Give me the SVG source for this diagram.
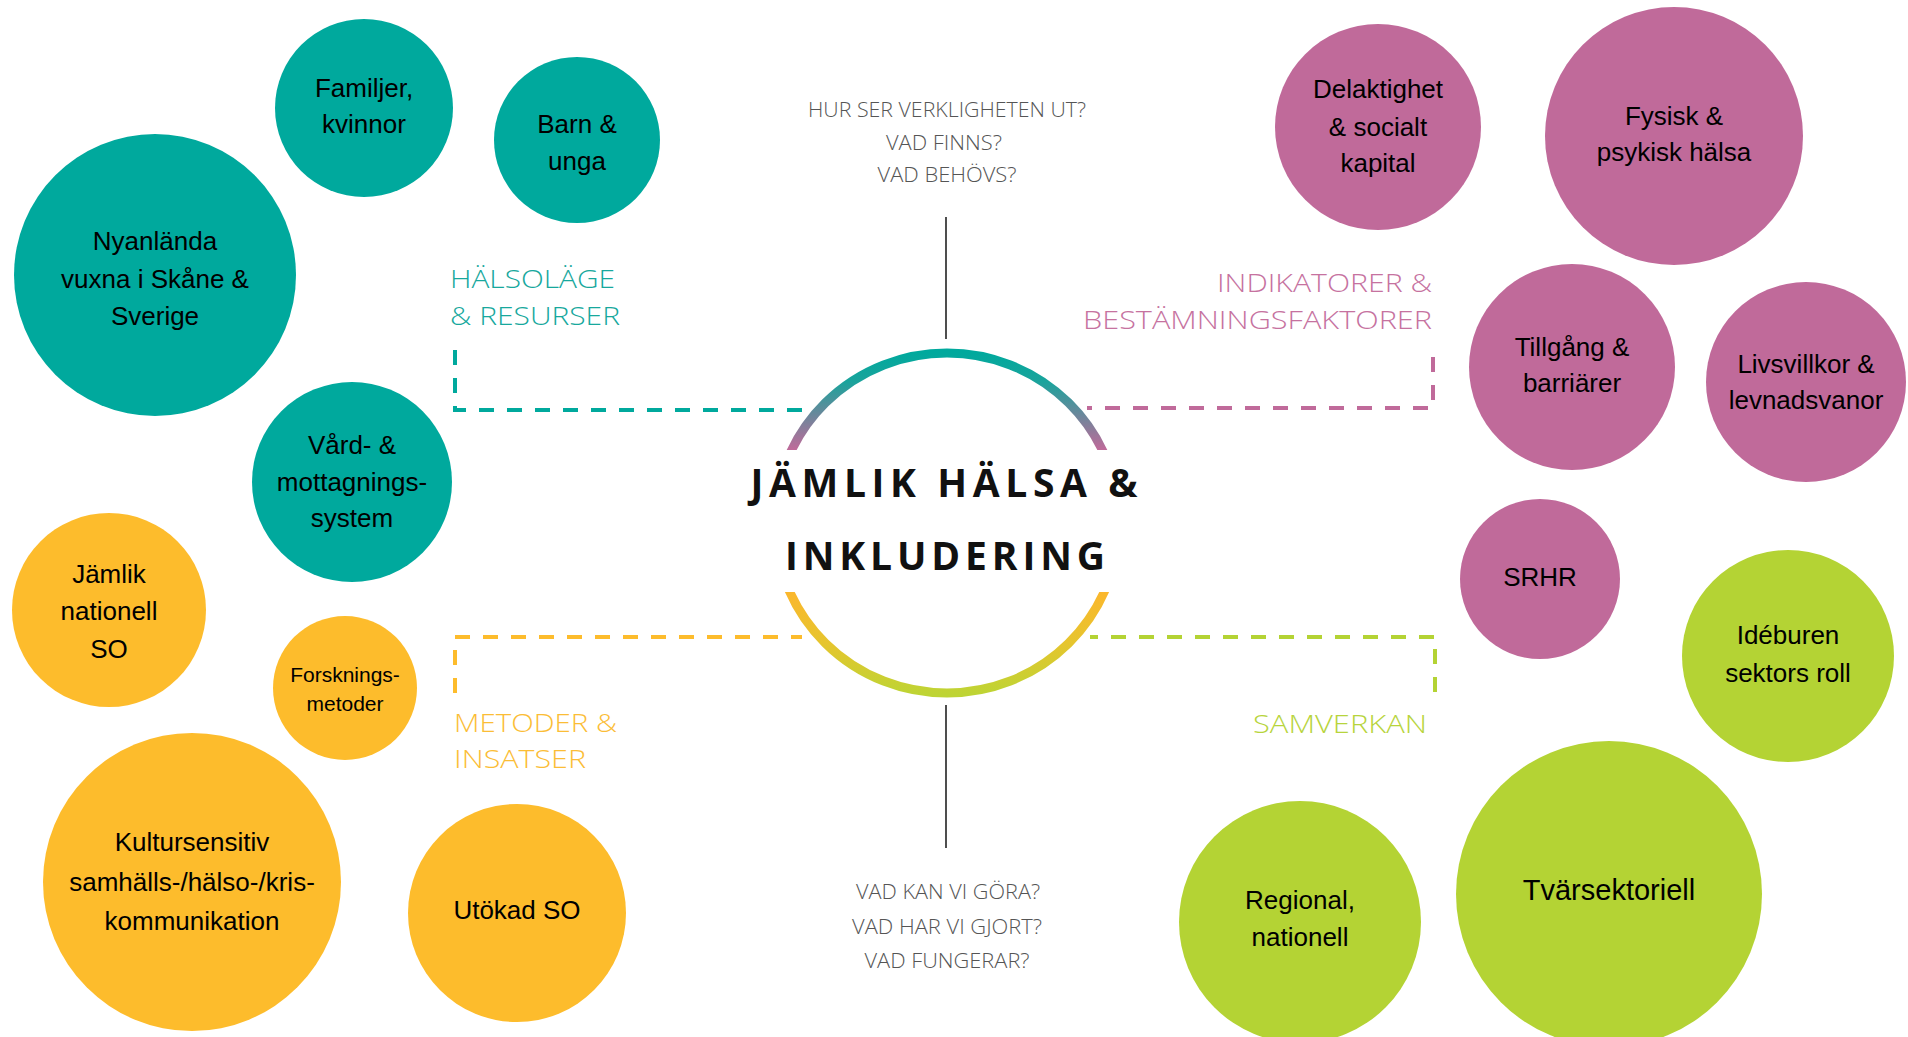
<svg xmlns="http://www.w3.org/2000/svg" width="1908" height="1037" viewBox="0 0 1908 1037">
<defs>
<style>
.teal{fill:#00A99D}
.pink{fill:#C06A9A}
.orange{fill:#FDBC2C}
.green{fill:#B4D334}
.node text{font-family:"Liberation Sans",Arial,sans-serif;font-size:26px;fill:#000;text-anchor:middle}
.q{font-family:"Open Sans","Liberation Sans",sans-serif;font-size:20px;font-weight:300;fill:#555;text-anchor:middle}
.lab{font-family:"Open Sans","Liberation Sans",sans-serif;font-size:26px;font-weight:300}
.title{font-family:"Open Sans","Liberation Sans",sans-serif;font-size:39px;font-weight:bold;fill:#111;text-anchor:middle}
.dash{fill:none;stroke-width:4;stroke-dasharray:15 13}
.vline{stroke:#222;stroke-width:1.6}
</style>
<linearGradient id="gTop" gradientUnits="userSpaceOnUse" x1="0" y1="353" x2="0" y2="450">
<stop offset="0" stop-color="#00A99D"/>
<stop offset="0.3" stop-color="#1BA39C"/>
<stop offset="1" stop-color="#C06A9A"/>
</linearGradient>
<linearGradient id="gBot" gradientUnits="userSpaceOnUse" x1="0" y1="592" x2="0" y2="694">
<stop offset="0" stop-color="#FBB72D"/>
<stop offset="0.5" stop-color="#E6C52E"/>
<stop offset="1" stop-color="#BED434"/>
</linearGradient>
<clipPath id="cTop"><rect x="700" y="300" width="500" height="150"/></clipPath>
<clipPath id="cBot"><rect x="700" y="592" width="500" height="150"/></clipPath>
</defs>
<rect width="1908" height="1037" fill="#fff"/>

<g id="connectors">
<line class="vline" x1="946" y1="217" x2="946" y2="339"/>
<line class="vline" x1="946" y1="705" x2="946" y2="848"/>
<path class="dash" stroke="#00A99D" d="M455,350 V410 H802"/>
<path class="dash" stroke="#C06A9A" d="M1433,357 V408 H1087"/>
<path class="dash" stroke="#FDBC2C" d="M455,693 V637 H802"/>
<path class="dash" stroke="#B4D334" d="M1435,692 V637 H1090"/>
</g>

<g id="center">
<ellipse cx="947" cy="523" rx="172" ry="170" fill="none" stroke="url(#gTop)" stroke-width="9" clip-path="url(#cTop)"/>
<ellipse cx="947" cy="523" rx="172" ry="170" fill="none" stroke="url(#gBot)" stroke-width="9" clip-path="url(#cBot)"/>
<text class="title" x="944" y="497" textLength="387" lengthAdjust="spacing">JÄMLIK HÄLSA &amp;</text>
<text class="title" x="945" y="570" textLength="320" lengthAdjust="spacing">INKLUDERING</text>
</g>

<g id="questions-top">
<text class="q" x="947" y="117" textLength="278" lengthAdjust="spacingAndGlyphs">HUR SER VERKLIGHETEN UT?</text>
<text class="q" x="944" y="150" textLength="116" lengthAdjust="spacingAndGlyphs">VAD FINNS?</text>
<text class="q" x="947" y="182" textLength="139" lengthAdjust="spacingAndGlyphs">VAD BEHÖVS?</text>
</g>
<g id="questions-bottom">
<text class="q" x="948" y="899" textLength="184" lengthAdjust="spacingAndGlyphs">VAD KAN VI GÖRA?</text>
<text class="q" x="947" y="934" textLength="190" lengthAdjust="spacingAndGlyphs">VAD HAR VI GJORT?</text>
<text class="q" x="947" y="968" textLength="165" lengthAdjust="spacingAndGlyphs">VAD FUNGERAR?</text>
</g>

<g id="label-halsolage" class="lab" fill="#17A89D">
<text x="450" y="288" textLength="165" lengthAdjust="spacingAndGlyphs">HÄLSOLÄGE</text>
<text x="450" y="325" textLength="170" lengthAdjust="spacingAndGlyphs">&amp; RESURSER</text>
</g>
<g id="label-indikatorer" class="lab" fill="#C6729F">
<text x="1432" y="292" text-anchor="end" textLength="215" lengthAdjust="spacingAndGlyphs">INDIKATORER &amp;</text>
<text x="1432" y="329" text-anchor="end" textLength="349" lengthAdjust="spacingAndGlyphs">BESTÄMNINGSFAKTORER</text>
</g>
<g id="label-metoder" class="lab" fill="#FBBD36">
<text x="454" y="732" textLength="163" lengthAdjust="spacingAndGlyphs">METODER &amp;</text>
<text x="454" y="768" textLength="132" lengthAdjust="spacingAndGlyphs">INSATSER</text>
</g>
<g id="label-samverkan" class="lab" fill="#B7D43C">
<text x="1427" y="733" text-anchor="end" textLength="174" lengthAdjust="spacingAndGlyphs">SAMVERKAN</text>
</g>

<g id="n-familjer" class="node"><circle class="teal" cx="364" cy="108" r="89"/><text x="364" y="97">Familjer,</text><text x="364" y="133">kvinnor</text></g>
<g id="n-barn" class="node"><circle class="teal" cx="577" cy="140" r="83"/><text x="577" y="133">Barn &amp;</text><text x="577" y="170">unga</text></g>
<g id="n-nyanlanda" class="node"><circle class="teal" cx="155" cy="275" r="141"/><text x="155" y="250">Nyanlända</text><text x="155" y="288">vuxna i Skåne &amp;</text><text x="155" y="325">Sverige</text></g>
<g id="n-vard" class="node"><circle class="teal" cx="352" cy="482" r="100"/><text x="352" y="454">Vård- &amp;</text><text x="352" y="491">mottagnings-</text><text x="352" y="527">system</text></g>

<g id="n-jamlik" class="node"><circle class="orange" cx="109" cy="610" r="97"/><text x="109" y="583">Jämlik</text><text x="109" y="620">nationell</text><text x="109" y="658">SO</text></g>
<g id="n-forskning" class="node"><circle class="orange" cx="345" cy="688" r="72"/><text x="345" y="682" style="font-size:21px">Forsknings-</text><text x="345" y="711" style="font-size:21px">metoder</text></g>
<g id="n-kultur" class="node"><circle class="orange" cx="192" cy="882" r="149"/><text x="192" y="851">Kultursensitiv</text><text x="192" y="891">samhälls-/hälso-/kris-</text><text x="192" y="930">kommunikation</text></g>
<g id="n-utokad" class="node"><circle class="orange" cx="517" cy="913" r="109"/><text x="517" y="919">Utökad SO</text></g>

<g id="n-delaktighet" class="node"><circle class="pink" cx="1378" cy="127" r="103"/><text x="1378" y="98">Delaktighet</text><text x="1378" y="136">&amp; socialt</text><text x="1378" y="172">kapital</text></g>
<g id="n-fysisk" class="node"><circle class="pink" cx="1674" cy="136" r="129"/><text x="1674" y="125">Fysisk &amp;</text><text x="1674" y="161">psykisk hälsa</text></g>
<g id="n-tillgang" class="node"><circle class="pink" cx="1572" cy="367" r="103"/><text x="1572" y="356">Tillgång &amp;</text><text x="1572" y="392">barriärer</text></g>
<g id="n-livsvillkor" class="node"><circle class="pink" cx="1806" cy="382" r="100"/><text x="1806" y="373">Livsvillkor &amp;</text><text x="1806" y="409">levnadsvanor</text></g>
<g id="n-srhr" class="node"><circle class="pink" cx="1540" cy="579" r="80"/><text x="1540" y="586">SRHR</text></g>

<g id="n-ideburen" class="node"><circle class="green" cx="1788" cy="656" r="106"/><text x="1788" y="644">Idéburen</text><text x="1788" y="682">sektors roll</text></g>
<g id="n-regional" class="node"><circle class="green" cx="1300" cy="922" r="121"/><text x="1300" y="909">Regional,</text><text x="1300" y="946">nationell</text></g>
<g id="n-tvarsektoriell" class="node"><circle class="green" cx="1609" cy="894" r="153"/><text x="1609" y="900" style="font-size:29px">Tvärsektoriell</text></g>
</svg>
